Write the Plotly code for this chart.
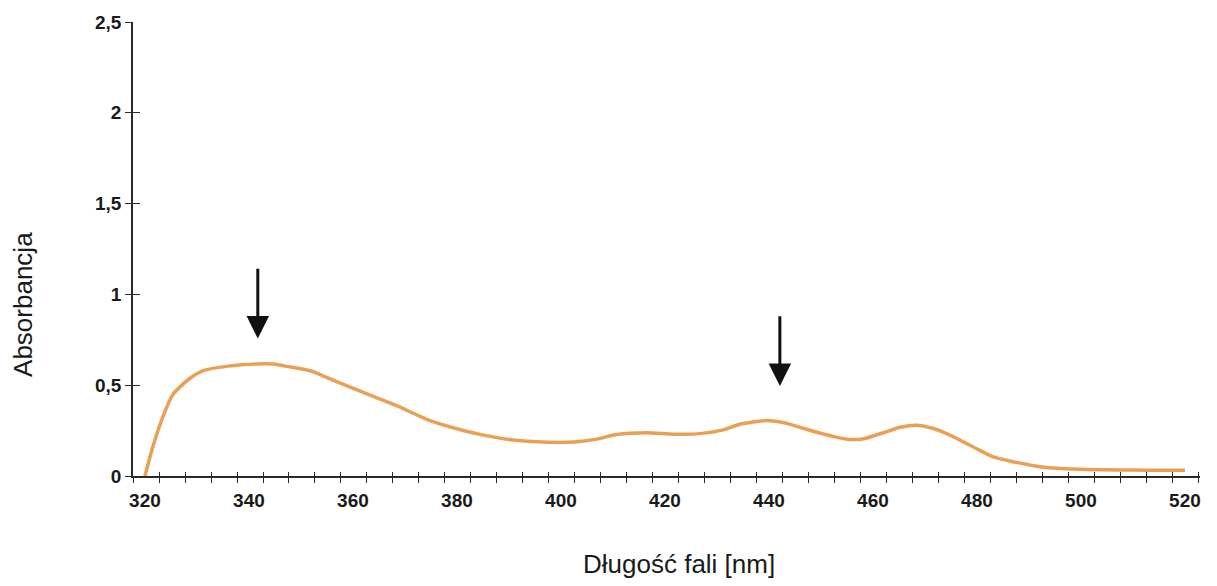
import plotly.graph_objects as go

# Absorption spectrum (wavelength in nm, absorbance)
wavelength = [320, 321.5, 323.5, 325.4, 328.3, 331.2, 336, 341.5, 344.7, 348, 352,
              355.6, 362, 368.4, 374.8, 380, 384.4, 390.8, 395.3, 402.4, 406.9,
              410.7, 416.5, 421.6, 426.1, 431.2, 434.4, 439.5, 443.4, 446.6, 450.4,
              454.9, 458, 462.3, 465.2, 468.4, 471.8, 474.8, 479.3, 483, 486.3,
              491.5, 495.3, 501, 507.5, 513, 520]
absorbance = [0, 0.16, 0.33, 0.45, 0.53, 0.58, 0.605, 0.617, 0.617, 0.6, 0.578,
              0.535, 0.46, 0.387, 0.305, 0.26, 0.229, 0.198, 0.188, 0.187, 0.203,
              0.228, 0.238, 0.23, 0.232, 0.254, 0.285, 0.305, 0.29, 0.263, 0.232,
              0.203, 0.204, 0.241, 0.268, 0.28, 0.26, 0.225, 0.16, 0.107, 0.083,
              0.054, 0.042, 0.036, 0.033, 0.032, 0.032]

x_labels = [320, 340, 360, 380, 400, 420, 440, 460, 480, 500, 520]
y_ticks = [0, 0.5, 1, 1.5, 2, 2.5]
y_tick_text = ["0", "0,5", "1", "1,5", "2", "2,5"]

# Arrows marking the two absorption bands: (wavelength, tip, tail)
arrows = [(341.7, 0.757, 1.149), (442.1, 0.496, 0.888)]

x_title = "Długość fali [nm]"
y_title = "Absorbancja"

x_range = [317.7, 522.9]
minor_ticks = [x_range[0] + 5 * k for k in range(42)]

axis_color = "#2a2a2a"
tick_font = dict(family="Liberation Sans, Arial", size=19, color="#1a1a1a", weight="bold")
title_font = dict(family="Liberation Sans, Arial", size=26, color="#1a1a1a")

fig = go.Figure()
fig.add_trace(go.Scatter(
    x=wavelength, y=absorbance, mode="lines",
    line=dict(color="#E9A055", width=3.5, shape="spline", smoothing=0.6),
    hoverinfo="x+y", showlegend=False,
))
# invisible helpers so the overlay axes render
fig.add_trace(go.Scatter(x=[x_range[0]], y=[0], xaxis="x2", yaxis="y2",
                         mode="markers", marker=dict(opacity=0), showlegend=False, hoverinfo="skip"))
fig.add_trace(go.Scatter(x=[x_range[0]], y=[0], xaxis="x3", yaxis="y",
                         mode="markers", marker=dict(opacity=0), showlegend=False, hoverinfo="skip"))

for wl, tip, tail in arrows:
    fig.add_annotation(
        x=wl, y=tip, ax=wl, ay=tail, xref="x", yref="y", axref="x", ayref="y",
        text="", showarrow=True, arrowhead=2, arrowsize=1.5, arrowwidth=3,
        arrowcolor="#111111",
    )

# axis titles
fig.add_annotation(text=x_title, xref="paper", yref="paper", x=0.512, y=-0.194,
                   xanchor="center", yanchor="middle", showarrow=False, font=title_font)
fig.add_annotation(text=y_title, xref="paper", yref="paper", x=-0.103, y=0.377,
                   xanchor="center", yanchor="middle", textangle=-90,
                   showarrow=False, font=title_font)

fig.update_layout(
    width=1217, height=586,
    margin=dict(l=133, r=17, t=17, b=110),
    paper_bgcolor="white", plot_bgcolor="white",
    separators=", ",
    xaxis=dict(
        range=x_range, tickvals=minor_ticks, showticklabels=False,
        ticks="outside", ticklen=5, tickwidth=1.3, tickcolor=axis_color,
        showline=True, linecolor=axis_color, linewidth=1.5,
        showgrid=False, zeroline=False,
    ),
    xaxis2=dict(
        range=x_range, overlaying="x", anchor="y", side="bottom",
        tickvals=minor_ticks, showticklabels=False,
        ticks="inside", ticklen=4, tickwidth=1.3, tickcolor=axis_color,
        showline=False, showgrid=False, zeroline=False,
    ),
    xaxis3=dict(
        range=x_range, overlaying="x", anchor="y", side="bottom",
        tickvals=x_labels, ticktext=[str(v) for v in x_labels],
        ticks="", ticklabelstandoff=11, tickfont=tick_font,
        showline=False, showgrid=False, zeroline=False,
    ),
    yaxis=dict(
        range=[0, 2.5], tickvals=y_ticks, ticktext=y_tick_text,
        ticks="outside", ticklen=6, tickwidth=1.3, tickcolor=axis_color,
        showline=True, linecolor=axis_color, linewidth=1.5,
        showgrid=False, zeroline=False, tickfont=tick_font,
    ),
    yaxis2=dict(
        range=[0, 2.5], overlaying="y", anchor="x", side="left",
        tickvals=y_ticks, showticklabels=False,
        ticks="inside", ticklen=7, tickwidth=1.3, tickcolor=axis_color,
        showline=False, showgrid=False, zeroline=False,
    ),
)

fig.write_html("out.html")
